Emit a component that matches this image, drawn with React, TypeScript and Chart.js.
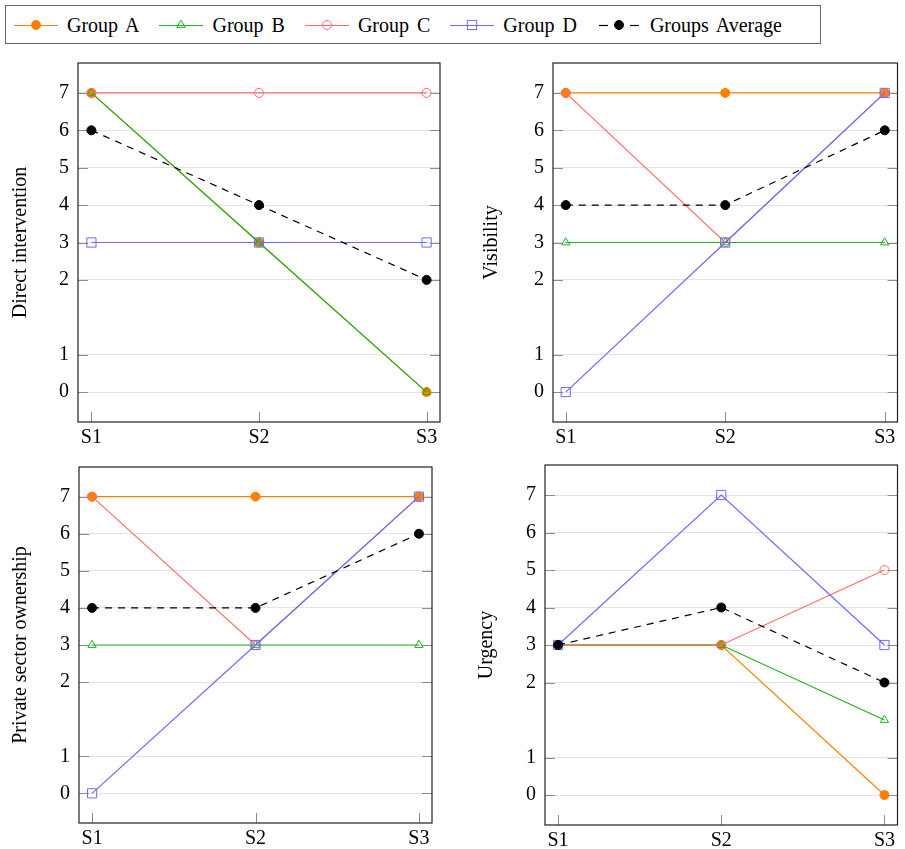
import React, { useEffect, useRef } from 'react';
import { Chart, registerables, LinearScale } from 'chart.js';

Chart.register(...registerables);

// ---------------- data ----------------
const stages = ['S1', 'S2', 'S3'];
const yTickValues = [0, 1, 2, 3, 4, 5, 6, 7];
const seriesNames = ['Group A', 'Group B', 'Group C', 'Group D', 'Groups Average'];

const directA = [7, 3, 0];
const directB = [7, 3, 0];
const directC = [7, 7, 7];
const directD = [3, 3, 3];
const directAvg = [6, 4, 2];

const visibilityA = [7, 7, 7];
const visibilityB = [3, 3, 3];
const visibilityC = [7, 3, 7];
const visibilityD = [0, 3, 7];
const visibilityAvg = [4, 4, 6];

const privateA = [7, 7, 7];
const privateB = [3, 3, 3];
const privateC = [7, 3, 7];
const privateD = [0, 3, 7];
const privateAvg = [4, 4, 6];

const urgencyA = [3, 3, 0];
const urgencyB = [3, 3, 1.5];
const urgencyC = [3, 3, 5];
const urgencyD = [3, 7, 3];
const urgencyAvg = [3, 4, 2];

// ---------------- styles ----------------
const FONT = '"Liberation Serif", "Times New Roman", serif';
const FONT_SIZE = 20;
const COLORS = ['#ff8000', '#1db31d', '#ff6b6b', '#6b6bff', '#000000'];
const STYLES = [
  { pointStyle: 'circle', radius: 4.5, filled: true, dash: [] as number[] },
  { pointStyle: 'triangle', radius: 4.8, filled: false, dash: [] as number[] },
  { pointStyle: 'circle', radius: 4.5, filled: false, dash: [] as number[] },
  { pointStyle: 'rect', radius: 6.5, filled: false, dash: [] as number[] },
  { pointStyle: 'circle', radius: 4.5, filled: true, dash: [7, 6] },
];

Chart.defaults.font.family = FONT;
Chart.defaults.font.size = FONT_SIZE;
Chart.defaults.color = '#000';

// axis with a gap between 1 and 2 (as in the reference)
function toAxisPos(v: number) {
  if (v <= 1) return v;
  if (v >= 2) return v + 1;
  return 1 + 2 * (v - 1);
}
function fromAxisPos(p: number) {
  if (p <= 1) return p;
  if (p >= 3) return p - 1;
  return 1 + (p - 1) / 2;
}

class BrokenLinearScale extends LinearScale {
  static id = 'brokenLinear';
  static defaults = LinearScale.defaults;
  getPixelForValue(value: number) {
    return super.getPixelForValue(toAxisPos(value));
  }
  getValueForPixel(pixel: number) {
    return fromAxisPos(super.getValueForPixel(pixel) as number);
  }
}
Chart.register(BrokenLinearScale as any);

const TICK_LEN = 10;
const frameTicksPlugin = {
  id: 'frameTicks',
  beforeDatasetsDraw(chart: any) {
    const { ctx, chartArea, scales } = chart;
    const { left, right, top, bottom } = chartArea;
    const x = scales.x;
    const y = scales.y;
    ctx.save();
    ctx.strokeStyle = '#8c8c8c';
    ctx.lineWidth = 1;
    ctx.beginPath();
    y.ticks.forEach((t: any) => {
      const py = Math.round(y.getPixelForValue(t.value)) + 0.5;
      ctx.moveTo(left, py);
      ctx.lineTo(left + TICK_LEN, py);
      ctx.moveTo(right, py);
      ctx.lineTo(right - TICK_LEN, py);
    });
    x.ticks.forEach((t: any) => {
      const px = Math.round(x.getPixelForValue(t.value)) + 0.5;
      ctx.moveTo(px, bottom);
      ctx.lineTo(px, bottom - TICK_LEN);
    });
    ctx.stroke();
    ctx.strokeStyle = '#222';
    ctx.lineWidth = 1.2;
    ctx.strokeRect(left, top, right - left, bottom - top);
    ctx.restore();
  },
};

type PanelCfg = {
  title: string;
  series: number[][];
  box: { x: number; y: number; w: number; h: number };
  frame: { l: number; t: number; r: number; b: number };
  titleCenter: number;
};

const panels: PanelCfg[] = [
  {
    title: 'Direct intervention',
    series: [directA, directB, directC, directD, directAvg],
    box: { x: 0, y: 50, w: 452, h: 400 },
    frame: { l: 78, t: 63, r: 440, b: 422 },
    titleCenter: 21,
  },
  {
    title: 'Visibility',
    series: [visibilityA, visibilityB, visibilityC, visibilityD, visibilityAvg],
    box: { x: 455, y: 50, w: 450, h: 400 },
    frame: { l: 553, t: 63, r: 904, b: 422 },
    titleCenter: 492,
  },
  {
    title: 'Private sector ownership',
    series: [privateA, privateB, privateC, privateD, privateAvg],
    box: { x: 0, y: 455, w: 452, h: 394 },
    frame: { l: 79, t: 467, r: 432, b: 823 },
    titleCenter: 21,
  },
  {
    title: 'Urgency',
    series: [urgencyA, urgencyB, urgencyC, urgencyD, urgencyAvg],
    box: { x: 455, y: 455, w: 450, h: 394 },
    frame: { l: 545, t: 465, r: 898, b: 825 },
    titleCenter: 487,
  },
];

function buildConfig(p: PanelCfg): any {
  const lineHeight = FONT_SIZE * 1.2;
  const yAxisW = p.frame.l - p.box.x;
  const xAxisH = p.box.y + p.box.h - p.frame.b;
  const tickFont = { family: FONT, size: FONT_SIZE };
  return {
    type: 'line',
    data: {
      datasets: p.series.map((vals, i) => ({
        label: seriesNames[i],
        data: vals.map((v, j) => ({ x: j, y: v })),
        borderColor: COLORS[i],
        borderWidth: 1.2,
        borderDash: STYLES[i].dash,
        pointStyle: STYLES[i].pointStyle,
        pointRadius: STYLES[i].radius,
        pointHoverRadius: STYLES[i].radius,
        pointBorderWidth: 1,
        pointBorderColor: COLORS[i],
        pointBackgroundColor: STYLES[i].filled ? COLORS[i] : 'rgba(0,0,0,0)',
        tension: 0,
        fill: false,
        order: 5 - i,
      })),
    },
    options: {
      animation: false,
      responsive: false,
      events: [],
      layout: {
        padding: {
          top: p.frame.t - p.box.y,
          right: p.box.x + p.box.w - p.frame.r,
          left: 0,
          bottom: 0,
        },
      },
      plugins: {
        legend: { display: false },
        tooltip: { enabled: false },
      },
      scales: {
        x: {
          type: 'linear',
          min: -0.08,
          max: 2.08,
          bounds: 'data',
          grid: { display: false, drawTicks: false },
          border: { display: false },
          ticks: {
            padding: 4,
            maxRotation: 0,
            autoSkip: false,
            font: tickFont,
            color: '#000',
            callback: (v: number) => stages[v] ?? '',
          },
          afterBuildTicks: (s: any) => {
            s.ticks = stages.map((_, i) => ({ value: i }));
          },
          afterFit: (s: any) => {
            s.height = xAxisH;
            s.paddingLeft = 0;
            s.paddingRight = 0;
            s.paddingTop = 0;
            s.paddingBottom = 0;
          },
        },
        y: {
          type: 'brokenLinear',
          min: -0.8,
          max: 8.8,
          bounds: 'data',
          grid: { color: '#e3e3e3', lineWidth: 1, drawTicks: false },
          border: { display: false },
          ticks: {
            padding: 9,
            autoSkip: false,
            font: tickFont,
            color: '#000',
            callback: (v: number) => String(v),
          },
          afterBuildTicks: (s: any) => {
            s.ticks = yTickValues.map((v) => ({ value: v }));
          },
          afterFit: (s: any) => {
            s.width = yAxisW;
            s.paddingTop = 0;
            s.paddingBottom = 0;
            s.paddingLeft = 0;
            s.paddingRight = 0;
          },
          title: {
            display: true,
            text: p.title,
            color: '#000',
            font: { size: FONT_SIZE, family: FONT },
            padding: { top: p.titleCenter - p.box.x - lineHeight / 2, bottom: 0 },
          },
        },
      },
    },
    plugins: [frameTicksPlugin],
  };
}

function Panel({ cfg }: { cfg: PanelCfg }) {
  const ref = useRef<HTMLCanvasElement>(null);
  useEffect(() => {
    const chart = new Chart(ref.current as HTMLCanvasElement, buildConfig(cfg));
    return () => chart.destroy();
  }, [cfg]);
  return (
    <canvas
      ref={ref}
      width={cfg.box.w}
      height={cfg.box.h}
      style={{ position: 'absolute', left: cfg.box.x, top: cfg.box.y, width: cfg.box.w, height: cfg.box.h }}
    />
  );
}

function LegendIcon({ i }: { i: number }) {
  const c = COLORS[i];
  const st = STYLES[i];
  let marker: React.ReactNode = null;
  if (i === 0) marker = <circle cx={22} cy={10} r={4.5} fill={c} stroke={c} />;
  if (i === 1) marker = <polygon points="22,5.2 26.2,12.4 17.8,12.4" fill="none" stroke={c} strokeWidth={1} />;
  if (i === 2) marker = <circle cx={22} cy={10} r={4.5} fill="none" stroke={c} strokeWidth={1} />;
  if (i === 3) marker = <rect x={17.4} y={5.4} width={9.2} height={9.2} fill="none" stroke={c} strokeWidth={1} />;
  if (i === 4) marker = <circle cx={22} cy={10} r={4.5} fill={c} stroke={c} />;
  return (
    <svg width={44} height={20} style={{ marginRight: 9, flex: 'none' }}>
      {st.dash.length ? (
        <g stroke={c} strokeWidth={1.2}>
          <line x1={2} y1={10.5} x2={11} y2={10.5} />
          <line x1={33} y1={10.5} x2={42} y2={10.5} />
        </g>
      ) : (
        <line x1={0} y1={10.5} x2={44} y2={10.5} stroke={c} strokeWidth={1.2} />
      )}
      {marker}
    </svg>
  );
}

export default function App() {
  return (
    <div style={{ position: 'absolute', left: 0, top: 0, width: 905, height: 849, background: '#fff', overflow: 'hidden' }}>
      <div
        style={{
          position: 'absolute',
          left: 5,
          top: 5,
          width: 816,
          height: 39,
          boxSizing: 'border-box',
          border: '1.3px solid #666',
          display: 'flex',
          alignItems: 'center',
          paddingLeft: 8,
          fontFamily: FONT,
          fontSize: FONT_SIZE,
          color: '#000',
        }}
      >
        {seriesNames.map((n, i) => (
          <div key={n} style={{ display: 'flex', alignItems: 'center', marginRight: 20 }}>
            <LegendIcon i={i} />
            <span style={{ lineHeight: 1, wordSpacing: 3, whiteSpace: 'nowrap' }}>{n}</span>
          </div>
        ))}
      </div>
      {panels.map((p) => (
        <Panel key={p.title} cfg={p} />
      ))}
    </div>
  );
}
